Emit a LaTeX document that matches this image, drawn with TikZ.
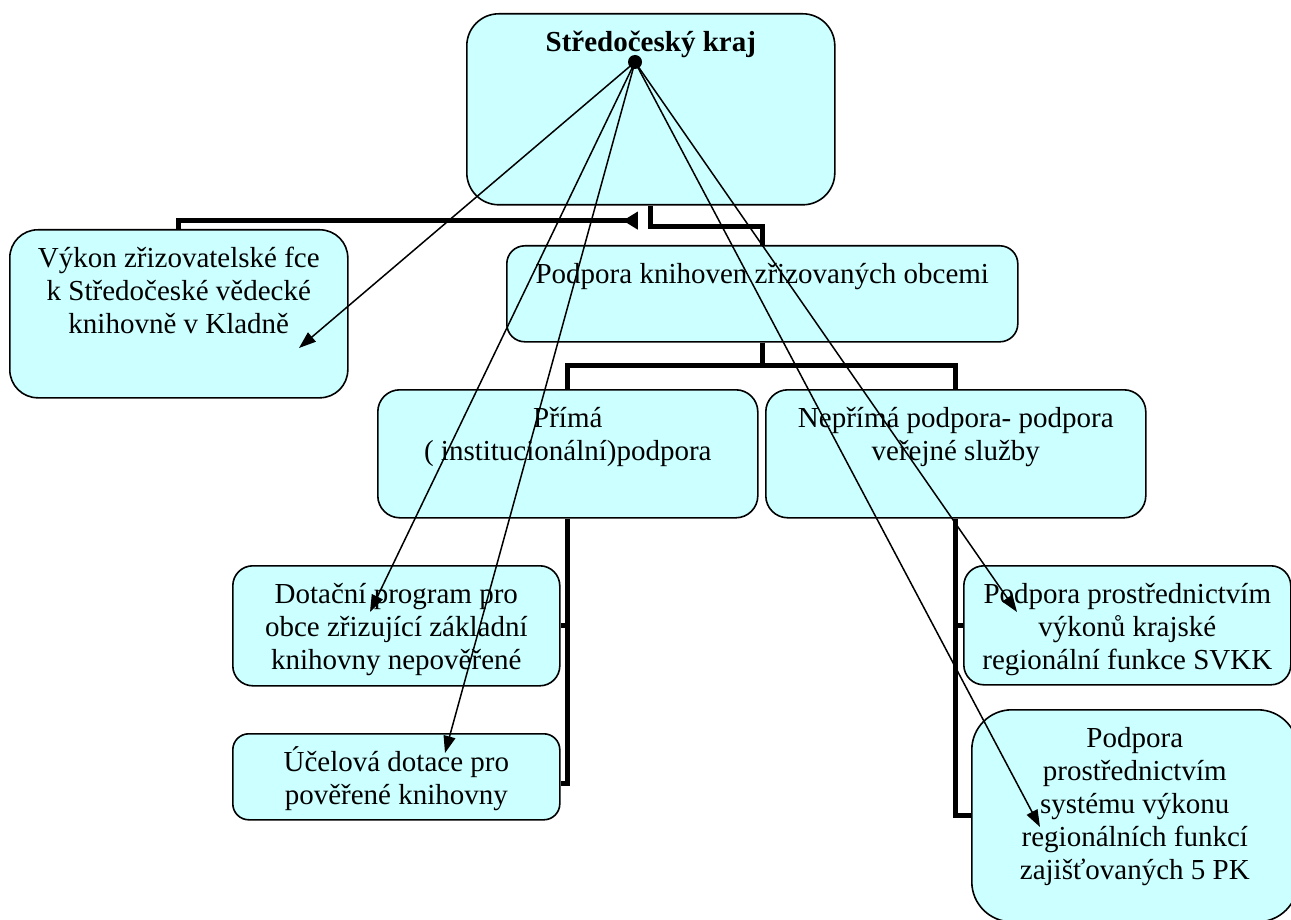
\documentclass[tikz,border=0pt]{standalone}
\usepackage{fontspec}
\setmainfont{Liberation Serif}
\usetikzlibrary{arrows.meta}
\usetikzlibrary{calc,positioning}
\definecolor{boxfill}{HTML}{CCFFFF}
\newcommand{\boxtext}[3]{\parbox[t][#2][t]{#1}{\centering\rule{0pt}{38pt}#3}}

\begin{document}
\begin{tikzpicture}[x=1pt, y=-1pt, >={Triangle[length=17pt,width=12pt]},
    box/.style={draw, line width=1.6pt, fill=boxfill, anchor=north west, inner sep=0pt,
        font=\fontsize{29}{33}\selectfont},
    tree/.style={line width=5pt},
    pointer/.style={->, line width=1.5pt}]
    \useasboundingbox (0,0) rectangle (1291,920);

    \node[box, rounded corners=32pt] (kraj) at (466,13)
        {\boxtext{368pt}{191pt}{\textbf{Středočeský kraj}}};
    \node[box, rounded corners=28pt] (vykon) at (9,229)
        {\boxtext{338pt}{168pt}{Výkon zřizovatelské fce\\ k Středočeské vědecké\\ knihovně v Kladně}};
    \node[box, rounded corners=18pt] (knihoven) at (506,245)
        {\boxtext{511pt}{96pt}{Podpora knihoven zřizovaných obcemi}};
    \node[box, rounded corners=22pt] (prima) at (377,389)
        {\boxtext{380pt}{128pt}{Přímá\\ ( institucionální)podpora}};
    \node[box, rounded corners=22pt] (neprima) at (765,389)
        {\boxtext{380pt}{128pt}{Nepřímá podpora- podpora\\ veřejné služby}};
    \node[box, rounded corners=20pt] (dotacni) at (232,565)
        {\boxtext{327pt}{120pt}{Dotační program pro\\ obce zřizující základní\\ knihovny nepověřené}};
    \node[box, rounded corners=16pt] (ucelova) at (232,733)
        {\boxtext{327pt}{86pt}{Účelová dotace pro\\ pověřené knihovny}};
    \node[box, rounded corners=20pt] (svkk) at (963,565)
        {\boxtext{327pt}{119pt}{Podpora prostřednictvím\\ výkonů krajské\\ regionální funkce SVKK}};
    \node[box, rounded corners=40pt] (pk) at (971,709)
        {\boxtext{326pt}{212pt}{Podpora\\ prostřednictvím\\ systému výkonu\\ regionálních funkcí\\ zajišťovaných 5 PK}};

    \draw[tree] (kraj.south) -- ++(0,21) -| (knihoven.north);
    \draw[tree, {Triangle[reversed,length=15pt,width=17pt]}-] ($(kraj.south)+(-13,15)$) -| (vykon.north);
    \draw[tree] (knihoven.south) -- ++(0,23) -| (prima.north);
    \draw[tree] (knihoven.south) ++(0,23) -| (neprima.north);
    \draw[tree] (prima.south) |- (dotacni.east);
    \draw[tree] (prima.south) |- ([yshift=-7pt]ucelova.east);
    \draw[tree] (neprima.south) |- (svkk.west);
    \draw[tree] (neprima.south) |- (pk.west);

    \node[circle, fill, inner sep=0pt, minimum size=14pt] (hub) at (635,62) {};
    \coordinate (tip_vykon) at (299,348);
    \coordinate (tip_dotacni) at (370,612);
    \coordinate (tip_ucelova) at (445,753);
    \coordinate (tip_svkk) at (1017,612);
    \coordinate (tip_pk) at (1040,827);

    \draw[pointer] (hub.center) -- (tip_vykon);
    \draw[pointer] (hub.center) -- (tip_dotacni);
    \draw[pointer] (hub.center) -- (tip_ucelova);
    \draw[pointer] (hub.center) -- (tip_svkk);
    \draw[pointer] (hub.center) -- (tip_pk);

\end{tikzpicture}
\end{document}
